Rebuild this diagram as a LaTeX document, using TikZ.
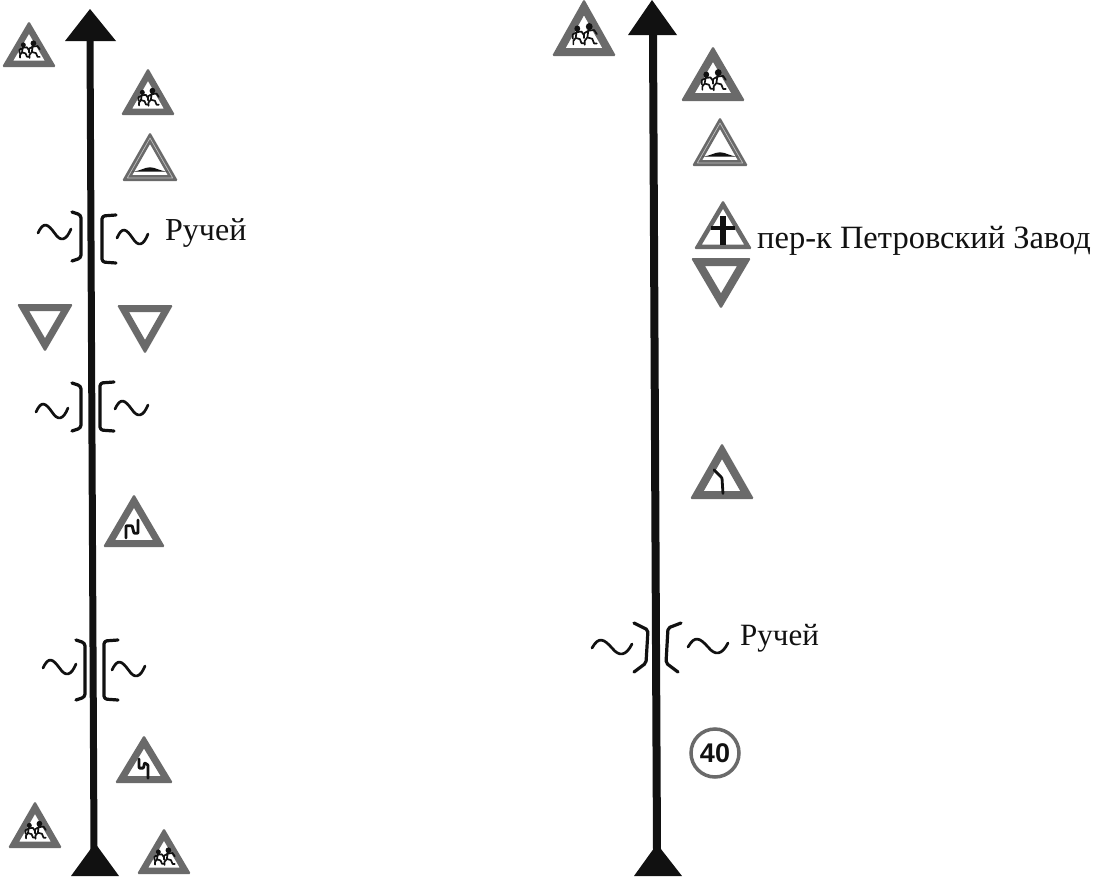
\documentclass[tikz,border=0pt]{standalone}
\usepackage{fontspec}
\setmainfont{Liberation Serif}
\newfontfamily\signfont{Liberation Sans}
\definecolor{ring}{HTML}{6A6A6A}
\definecolor{ink}{HTML}{111111}
\tikzset{
  road/.style={ink,line width=7pt},
  endtri/.style={fill=ink,draw=none},
  glyph/.style={ink,line width=2.8pt,line join=round,line cap=round,rounded corners=.7pt},
  limb/.style={ink,line width=1.7pt,line join=round,line cap=round},
  brack/.style={ink,line width=3.2pt,line join=round,line cap=round,rounded corners=3pt},
  wave/.style={ink,line width=2.7pt,line cap=round},
  label/.style={inner sep=0pt,anchor=west,text=ink},
}
% [#1 ring width] #2 cx, #3 apex y, #4 base y, #5 half width, #6 content
\newcommand\signup[6][7]{%
  \begin{scope}[shift={(#2,#4)},xscale=#5,yscale=#4-#3]
    \begin{scope}[rounded corners=1.5pt]
      \clip (-1,0) -- (1,0) -- (0,-1) -- cycle;
      \fill[white] (-1,0) -- (1,0) -- (0,-1) -- cycle;
      \draw[ring,line width=2*#1pt,line join=miter] (-1,0) -- (1,0) -- (0,-1) -- cycle;
    \end{scope}
    #6
  \end{scope}}
% [#1 ring width] #2 cx, #3 top y, #4 apex y, #5 half width
\newcommand\signdown[5][7]{%
  \begin{scope}[shift={(#2,#3)},xscale=#5,yscale=#4-#3]
    \begin{scope}[rounded corners=1.5pt]
      \clip (-1,0) -- (1,0) -- (0,1) -- cycle;
      \draw[ring,line width=2*#1pt,line join=miter] (-1,0) -- (1,0) -- (0,1) -- cycle;
    \end{scope}
  \end{scope}}
\newcommand\onekid[3]{%
  \begin{scope}[shift={(#1,#2)},scale=#3]
  \fill[ink] (.02,-.47) circle[x radius=.09,y radius=.055];
  \draw[limb] (0,-.42) -- (-.03,-.31)
    (-.12,-.3) -- (-.12,-.37) -- (0,-.41) -- (.15,-.42) -- (.22,-.36)
    (-.03,-.31) -- (.1,-.29) -- (.15,-.22) -- (.22,-.22)
    (-.03,-.31) -- (-.1,-.26) -- (-.1,-.2);
  \end{scope}}
\newcommand\kids{\onekid{-.23}{.0}{1.02}\onekid{.14}{.04}{1.18}}
\newcommand\bumpmark{%
  \draw[gray!50,line width=.7pt,line join=round] (-.81,-.0625) -- (.81,-.0625) -- (0,-.876) -- cycle;
  \fill[ink] (-.65,-.19) .. controls (-.35,-.2) and (-.2,-.28) .. (0,-.28) .. controls (.2,-.28) and (.35,-.2) .. (.65,-.19) -- cycle;}
\newcommand\bracketL[3]{\draw[brack] (#1-9,#2) -- (#1,#2+3) -- (#1,#3-3) -- (#1-9,#3);}
\newcommand\bracketR[3]{\draw[brack] (#1+14,#2) -- (#1,#2+1) -- (#1,#3-1) -- (#1+14,#3);}
\newcommand\wavemark[3]{\draw[wave] (#1,#3) .. controls (#1+.17*#2,#3-12) and (#1+.3*#2,#3-9) .. (#1+.5*#2,#3)
   .. controls (#1+.68*#2,#3+9) and (#1+.85*#2,#3+8) .. (#1+#2,#3-4);}
\begin{document}
\begin{tikzpicture}[x=1pt,y=-1pt]
\useasboundingbox (0,0) rectangle (1098,878);
\fill[white] (0,0) rectangle (1098,878);
% left road
\draw[road] (90,38) -- (94,850);
\fill[endtri] (90,9) -- (116,41) -- (65,41) -- cycle;
\fill[endtri] (95,843) -- (119,876) -- (71,876) -- cycle;
\signup[6.5]{29}{21}{67}{27}{\kids}
\signup[6.5]{148}{68}{115}{27}{\kids}
\signup[6]{150}{132}{181}{28}{\bumpmark}
\bracketL{81}{212}{261}\wavemark{38}{33}{233}
\bracketR{102}{215}{263}\wavemark{117}{31}{238}
\node[label,font=\fontsize{32}{32}\selectfont] (t1) at (165,233) {Ручей};
\signdown{45}{304}{352}{28}
\signdown{145}{305}{354}{28}
\bracketL{81}{383}{431}\wavemark{36}{32}{412}
\bracketR{100}{382}{431}\wavemark{115}{33}{409}
\signup{134}{494}{547}{31}{\draw[glyph] (-.26,-.17) -- (-.26,-.40) -- (-.06,-.40) -- (0,-.26) -- (.13,-.26) -- (.13,-.51);}
\bracketL{85}{640}{700}\wavemark{43}{33}{668}
\bracketR{104}{640}{700}\wavemark{112}{33}{670}
\signup{144}{735}{783}{29}{\draw[glyph] (-.17,-.5) -- (-.17,-.31) -- (-.02,-.31) -- (.02,-.42) -- (.14,-.375) -- (.14,-.10);}
\signup[6.5]{35}{801}{848}{27}{\kids}
\signup[6.5]{164}{828}{874}{27}{\kids}
% right road
\draw[road,line width=8pt] (653,33) -- (657,850);
\fill[endtri] (652,0) -- (677,35) -- (628,35) -- cycle;
\fill[endtri] (657,844) -- (682,876) -- (634,876) -- cycle;
\signup[8]{584}{-1}{56}{32}{\kids}
\signup[8]{713}{46}{101}{32}{\kids}
\signup[6]{720}{117}{166}{28}{\bumpmark}
\signup[4.5]{723}{200}{249}{29}{\draw[ink,line width=6pt] (0,-.09) -- (0,-.67);\draw[ink,line width=4pt] (-.4,-.43) -- (.4,-.43);}
\node[label,font=\fontsize{32.5}{32.5}\selectfont] (t2) at (757,241) {пер-к Петровский Завод};
\signdown[8]{721}{258}{309}{30}
\signup[8]{722}{443}{499}{32}{\draw[glyph] (-.25,-.52) -- (0,-.375) -- (.03,-.1);}
\draw[brack,rounded corners=2pt] (634,623) -- (648,630) -- (646,663) -- (634,672);
\wavemark{592}{40}{648}
\draw[brack,rounded corners=2pt] (681,623) -- (668,628) -- (666,663) -- (678,672);
\wavemark{688}{40}{647}
\node[label,font=\fontsize{31}{31}\selectfont] (t3) at (740,638) {Ручей};
\node[circle,draw=ring,line width=3.5pt,minimum size=48pt,inner sep=0pt,text=ink,font=\signfont\bfseries\fontsize{27}{27}\selectfont] (s40) at (715,753) {40};
\end{tikzpicture}
\end{document}
